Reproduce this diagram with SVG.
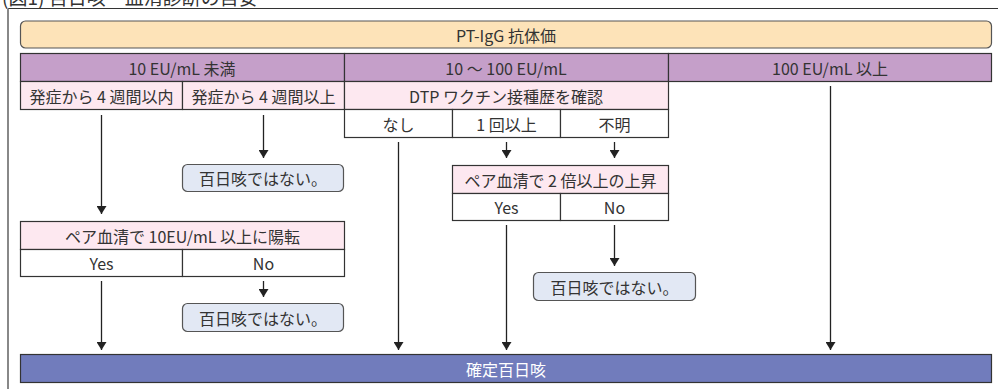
<svg xmlns="http://www.w3.org/2000/svg" width="998" height="389" viewBox="0 0 998 389">
<style>
  text { font-family: "Noto Sans CJK JP", "Noto Sans", sans-serif; fill: #333; font-size: 16px; text-anchor: middle; dominant-baseline: central; }
  .hdr { fill: #fde3b8; stroke: #555; stroke-width: 1.2; }
  .pur { fill: #c59fc9; stroke: #333; stroke-width: 1.2; }
  .pnk { fill: #fde8f0; stroke: #333; stroke-width: 1.2; }
  .wht { fill: #ffffff; stroke: #333; stroke-width: 1.2; }
  .neg { fill: #e2e8f4; stroke: #555; stroke-width: 1.2; }
  .fin { fill: #717cbc; stroke: #333; stroke-width: 1.2; }
  .fin-t { fill: #ffffff; }
  .conn line { stroke: #222; stroke-width: 1.3; marker-end: url(#arr); }
</style>
<defs>
  <marker id="arr" markerUnits="userSpaceOnUse" markerWidth="8" markerHeight="10" refX="8" refY="5" orient="auto">
    <path d="M0,0 L8,5 L0,10 Z" fill="#222"/>
  </marker>
</defs>
<rect x="0" y="0" width="998" height="389" fill="#ffffff"/>
<text x="2" y="4.5" style="text-anchor:start;font-size:19px;dominant-baseline:alphabetic">(図1) 百日咳　血清診断の目安</text>
<line x1="8" y1="8.5" x2="998" y2="8.5" stroke="#333" stroke-width="1"/>
<line x1="8" y1="8.5" x2="8" y2="389" stroke="#888" stroke-width="2"/>

<g id="node-ptigg"><rect class="hdr" x="20.5" y="21" width="971" height="27" rx="5"/><text x="506" y="34.5">PT-IgG 抗体価</text></g>

<g id="node-lt10"><rect class="pur" x="20.5" y="53.5" width="324" height="28"/><text x="182" y="67.5">10 EU/mL 未満</text></g>
<g id="node-10to100"><rect class="pur" x="344.5" y="53.5" width="324" height="28"/><text x="506" y="67.5">10 ～ 100 EU/mL</text></g>
<g id="node-ge100"><rect class="pur" x="668.5" y="53.5" width="323" height="28"/><text x="830" y="67.5">100 EU/mL 以上</text></g>

<g id="node-within4w"><rect class="pnk" x="20.5" y="81.5" width="162" height="28"/><text x="101.5" y="95.5">発症から 4 週間以内</text></g>
<g id="node-over4w"><rect class="pnk" x="182.5" y="81.5" width="162" height="28"/><text x="263.5" y="95.5">発症から 4 週間以上</text></g>
<g id="node-dtp"><rect class="pnk" x="344.5" y="81.5" width="324" height="28"/><text x="506" y="95.5">DTP ワクチン接種歴を確認</text></g>

<g id="node-none"><rect class="wht" x="344.5" y="109.5" width="108" height="28"/><text x="398.5" y="123.5">なし</text></g>
<g id="node-once"><rect class="wht" x="452.5" y="109.5" width="108" height="28"/><text x="506.5" y="123.5">1 回以上</text></g>
<g id="node-unknown"><rect class="wht" x="560.5" y="109.5" width="108" height="28"/><text x="614.5" y="123.5">不明</text></g>

<g id="node-neg1"><rect class="neg" x="182.5" y="164.5" width="161" height="27" rx="5"/><text x="263" y="178">百日咳ではない。</text></g>

<g id="node-pair2x"><rect class="pnk" x="452.5" y="165.5" width="216" height="28"/><text x="560.5" y="179.5">ペア血清で 2 倍以上の上昇</text></g>
<g id="node-pair2x-yes"><rect class="wht" x="452.5" y="193.5" width="108" height="27"/><text x="506.5" y="207">Yes</text></g>
<g id="node-pair2x-no"><rect class="wht" x="560.5" y="193.5" width="108" height="27"/><text x="614.5" y="207">No</text></g>

<g id="node-pair10"><rect class="pnk" x="20.5" y="221.5" width="324" height="28"/><text x="182.5" y="235.5">ペア血清で 10EU/mL 以上に陽転</text></g>
<g id="node-pair10-yes"><rect class="wht" x="20.5" y="249.5" width="162" height="27"/><text x="101.5" y="263">Yes</text></g>
<g id="node-pair10-no"><rect class="wht" x="182.5" y="249.5" width="162" height="27"/><text x="263.5" y="263">No</text></g>

<g id="node-neg2"><rect class="neg" x="533.5" y="272.5" width="162" height="28" rx="5"/><text x="614.5" y="286.5">百日咳ではない。</text></g>
<g id="node-neg3"><rect class="neg" x="182.5" y="303.5" width="161" height="28" rx="5"/><text x="263" y="317.5">百日咳ではない。</text></g>

<g id="node-confirmed"><rect class="fin" x="20.5" y="354.5" width="971" height="28"/><text class="fin-t" x="506" y="368.5">確定百日咳</text></g>

<g id="connectors" class="conn">
  <line x1="101.5" y1="115" x2="101.5" y2="214"/>
  <line x1="263.5" y1="115" x2="263.5" y2="158"/>
  <line x1="101.5" y1="281" x2="101.5" y2="350"/>
  <line x1="263.5" y1="281" x2="263.5" y2="297"/>
  <line x1="398.5" y1="142" x2="398.5" y2="350"/>
  <line x1="506.5" y1="142" x2="506.5" y2="158"/>
  <line x1="614.5" y1="142" x2="614.5" y2="158"/>
  <line x1="506.5" y1="225" x2="506.5" y2="350"/>
  <line x1="614.5" y1="225" x2="614.5" y2="266"/>
  <line x1="830.5" y1="86" x2="830.5" y2="350"/>
</g>
</svg>
